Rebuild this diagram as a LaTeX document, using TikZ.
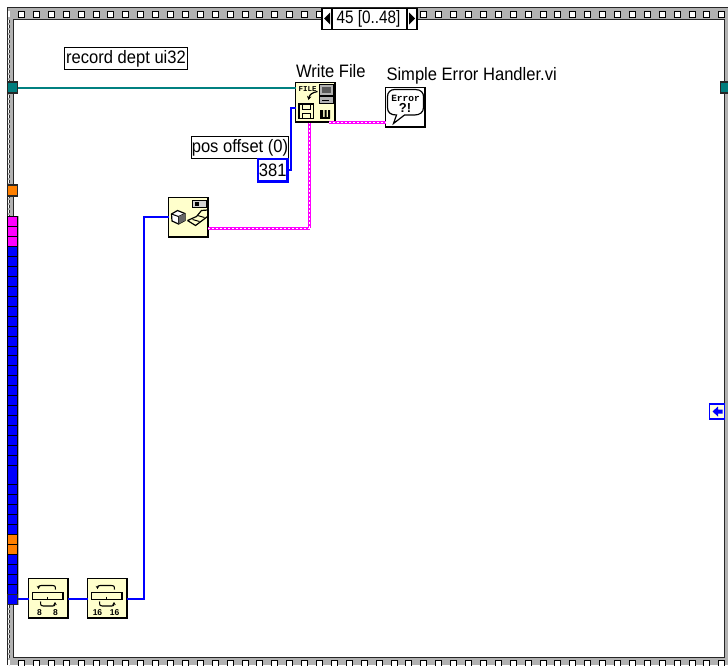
\documentclass[tikz,border=0pt]{standalone}
\usepackage{fontspec}
\usetikzlibrary{arrows.meta}
\setmainfont{Liberation Sans}
\setmonofont{Liberation Mono}
\definecolor{teal1}{RGB}{0,128,128}
\definecolor{tealt}{RGB}{0,125,125}
\definecolor{band}{RGB}{178,178,178}
\definecolor{iconbg}{RGB}{255,255,204}
\definecolor{navbg}{RGB}{255,255,225}
\definecolor{orng}{RGB}{255,128,0}
\definecolor{pinkw}{RGB}{255,0,255}
\definecolor{bluew}{RGB}{0,0,255}
\tikzset{
 x=1pt,y=-1pt,
 tun/.style={draw=black!85,line width=1.1pt,minimum width=10pt,minimum height=#1,inner sep=0pt,outer sep=0pt},
 tun/.default=10pt,
 cell/.style={draw=black,line width=1.1pt},
 icon/.style={draw=black,line width=1.5pt,fill=iconbg,minimum size=39.5pt,inner sep=0pt,outer sep=0pt},
 lab/.style={draw=black,line width=.9pt,fill=white,inner sep=0pt,outer sep=0pt,font=\fontsize{18}{19}\selectfont},
 freelab/.style={inner sep=0pt,outer sep=0pt,font=\fontsize{18}{19}\selectfont},
 bw/.style={draw=bluew,line width=2pt},
 tw/.style={draw=teal1,line width=2pt},
 sq/.style={draw=black,line width=1pt,fill=white},
}
\newcommand{\narrow}[1]{\scalebox{.92}[1]{#1}}
\newcommand{\pinkline}[1]{\draw[pinkw,line width=3pt] #1; \draw[white,line width=1pt,dash pattern=on 2pt off 2pt] #1;}
\newcommand{\conv}[5]{%
 \begin{scope}[shift={(#1)}]
  \draw[line width=1.2pt] (-16,-6) rectangle (14.5,1);
  \draw[line width=.9pt] (-1,-2) -- (-1,1);
  \draw[line width=1.1pt,-{Stealth[length=3pt,width=3.5pt]}] (7,-9) .. controls (7,-13) and (6,-13) .. (4,-13) -- (-7,-13) .. controls (-9,-13) and (-10,-12.5) .. (-10,-9.5);
  \draw[line width=1.1pt,-{Stealth[length=3pt,width=3.5pt]}] (-8,3) .. controls (-8,7.5) and (-7,7.5) .. (-5,7.5) -- (4,7.5) .. controls (6,7.5) and (6.5,7) .. (6.5,3.5);
  \node[inner sep=0pt,font=\fontsize{8.5}{9}\selectfont\bfseries] at (#4,14) {#2};
  \node[inner sep=0pt,font=\fontsize{8.5}{9}\selectfont\bfseries] at (#5,14) {#3};
 \end{scope}}
\begin{document}
\begin{tikzpicture}
\useasboundingbox (0,0) rectangle (728,665);
\fill[white] (0,0) rectangle (728,665);
% frame
\fill[band] (8,8) rectangle (728,665);
\fill[white] (14,19) rectangle (724,657);
\draw[black!85,line width=1.2pt] (7.5,665) -- (7.5,7.5) -- (728,7.5);
\draw[black!85,line width=1.2pt] (13.5,657.5) -- (13.5,19.5) -- (724.5,19.5) -- (724.5,657.5) -- cycle;
\draw[white,line width=2pt,dash pattern=on 2.5pt off 2.5pt] (8.5,20) -- (8.5,665);
\draw[black!80,line width=1pt,dash pattern=on 2.5pt off 2.5pt] (9.5,20) -- (9.5,665);
\foreach \i in {0,...,47}{
  \pgfmathsetmacro{\sx}{18.5+14.9*\i}
  \ifdim\sx pt<318pt \draw[sq] (\sx,11) rectangle ++(6,6); \fi
  \ifdim\sx pt>417pt \draw[sq] (\sx,11) rectangle ++(6,6); \fi
  \draw[sq] (\sx,660.5) rectangle ++(6,7);
}
\fill[white] (7.5,11) rectangle (10,17);
\fill[white] (7.5,660) rectangle (10,665);
% selector
\node[draw=black,line width=1.3pt,fill=white,minimum width=95pt,minimum height=21pt,inner sep=0pt,outer sep=0pt,anchor=north west] (sel) at (322,8.5) {};
\node[freelab] (seltxt) at (368.5,18.5) {\scalebox{.85}[1]{45 [0..48]}};
\draw[black,line width=1.1pt] (332,8.5) -- (332,29.5) (407,8.5) -- (407,29.5);
\fill[black] (330,12.5) -- (330,24.5) -- (324,18.5) -- cycle;
\fill[black] (409,12.5) -- (409,24.5) -- (415,18.5) -- cycle;
% tunnels
\node[tun=11pt,fill=tealt,anchor=north west] (tL) at (7.5,82) {};
\node[tun=11pt,fill=tealt,anchor=north east] (tR) at (730.5,82) {};
\node[tun=11pt,fill=orng,anchor=north west] (oA) at (7.5,185) {};
\draw[black!30,line width=1pt] (18.5,216) -- (18.5,605);
\foreach \a/\b in {216.5/226.5,226.5/236.5,236.5/246.5}{\draw[cell,fill=pinkw] (7.5,\a) rectangle (17.5,\b);}
\foreach \a/\b in {246.5/256.5,256.5/266.5,266.5/276.5,276.5/286.5,286.5/296.5,296.5/306.5,306.5/316.5,316.5/326.5,326.5/336.5,336.5/346.5,346.5/355.5,355.5/365.5,365.5/375.5,375.5/385.5,385.5/395.5,395.5/405.5,405.5/415.5,415.5/425.5,425.5/435.5,435.5/445.5,445.5/455.5,455.5/465.5,465.5/484.5,484.5/494.5,494.5/504.5,504.5/514.5,514.5/524.5,524.5/534.5,554.5/564.5,564.5/574.5,574.5/584.5,584.5/594.5}{\draw[cell,fill=bluew] (7.5,\a) rectangle (17.5,\b);}
\foreach \a/\b in {534.5/544.5,544.5/554.5}{\draw[cell,fill=orng] (7.5,\a) rectangle (17.5,\b);}
\node[tun=10pt,fill=bluew,anchor=north west] (bT) at (7.5,594.5) {};
% icons
\node[icon,anchor=north west] (wf) at (295.5,82.5) {};
\node[icon,fill=white,anchor=north west] (err) at (385.5,87.5) {};
\node[icon,anchor=north west] (prim) at (168.5,197.5) {};
\node[icon,anchor=north west] (c1) at (28.5,578.5) {};
\node[icon,anchor=north west] (c2) at (87.5,578.5) {};
% labels
\node[lab,minimum width=123pt,minimum height=22pt,anchor=north west] (rec) at (64.5,47.5) {\narrow{record dept ui32}};
\node[lab,minimum width=97pt,minimum height=22pt,anchor=north west] (pos) at (191.5,136.5) {\narrow{pos offset (0)}};
\node[draw=bluew,line width=2.2pt,fill=white,minimum width=29.5pt,minimum height=22.5pt,inner sep=0pt,outer sep=0pt,font=\fontsize{18}{19}\selectfont,anchor=north west] (num) at (258,159) {\narrow{381}};
\node[freelab,anchor=west] (wfl) at (296,71) {\narrow{Write File}};
\node[freelab,anchor=west] (errl) at (386.5,76) {\narrow{Simple Error Handler.vi}};
% wires
\draw[tw] (tL.east |- 0,88) -- (wf.west |- 0,88);
\draw[bw] (num.east) -- ++(3.5,0) |- (wf.west |- 0,108);
\coordinate (pinA) at (329,122.5);
\pinkline{(pinA) -- (pinA -| err.west)}
\coordinate (pinB) at (309.5,122.5);
\coordinate (pinC) at (prim.east |- 0,228);
\coordinate (pinD) at (309.5,228);
\pinkline{(pinC) -- (pinD)}
\draw[pinkw,line width=2.4pt] (pinD) -- (pinB);
\draw[white,line width=.8pt,dash pattern=on 2pt off 2pt] (pinD) -- (pinB);
\draw[bw] (bT.east |- 0,599) -- (c1.west |- 0,599);
\draw[bw] (c1.east |- 0,599) -- (c2.west |- 0,599);
\draw[bw] (c2.east |- 0,599) -- (144,599) |- (prim.west |- 0,217);
% write file icon
\begin{scope}[shift={(295.5,82.5)}]
 \node[inner sep=0pt,anchor=west,font=\fontsize{7.5}{9}\selectfont\ttfamily\bfseries] at (3,6.5) {FILE};
 \draw[line width=1pt,fill=band] (23.5,1.5) rectangle (38,12.5);
 \fill[black!65] (26.5,4) rectangle (35,10);
 \draw[line width=1pt,fill=band] (23.5,14) rectangle (38,21);
 \draw[line width=1pt] (26.5,18) -- (33,18);
 \draw[line width=1.2pt,-{Stealth[length=4pt,width=4.5pt]}] (22,9) .. controls (17,10) and (14,12) .. (13,17.5);
 \draw[line width=1.2pt,fill=iconbg] (3.5,21.5) rectangle (18,36);
 \draw[line width=1pt] (7,21.5) rectangle (14.5,27);
 \draw[line width=1pt] (6.5,30.5) rectangle (15,36);
 \fill[black] (24.5,27.5) rectangle (27.5,36) (29,27.5) rectangle (31,36) (32.5,27.5) rectangle (34.5,36);
 \fill[black] (24.5,34.5) rectangle (34.5,36.5);
\end{scope}
% error icon
\begin{scope}[shift={(385.5,87.5)}]
 \draw[line width=1.2pt] (9,2) -- (30,2) .. controls (36,2) and (38,6) .. (38,9) -- (38,20) .. controls (38,25) and (34,27.5) .. (29,27.5) -- (19,27.5) -- (8,36) -- (11,27.5) .. controls (5,27.5) and (2,25) .. (2,20) -- (2,9) .. controls (2,5) and (5,2) .. (9,2) -- cycle;
 \node[inner sep=0pt,font=\fontsize{9.5}{11}\selectfont\ttfamily\bfseries] at (20,10.5) {Error};
 \node[inner sep=0pt,font=\fontsize{13}{13}\selectfont\bfseries] at (19.5,20.5) {?!};
\end{scope}
% primitive icon
\begin{scope}[shift={(168.5,197.5)}]
 \draw[line width=1pt,fill=band!60] (24,3) rectangle (38,9.5);
 \fill[black] (26,4.5) rectangle (30.5,8);
 \draw[line width=1.2pt,fill=white] (3,16.5) -- (9,13) -- (16.5,16) -- (16.5,23) -- (10,26.5) -- (3.5,23.5) -- cycle;
 \draw[line width=1pt] (3,16.5) -- (10,19) -- (16.5,16) (10,19) -- (10,26.5);
 \fill[black!60] (10,19) -- (16.5,16) -- (16.5,23) -- (10,26.5) -- cycle;
 \draw[line width=1.2pt] (19,23) -- (28,19) -- (33,13) -- (39,12.5) (19,23) -- (27,28) -- (39,19);
 \draw[line width=1pt] (24,22) -- (31,24) (29,18) -- (36,20);
\end{scope}
\conv{48.5,598.5}{8}{8}{-9}{7}
\conv{107.5,598.5}{16}{16}{-10}{7}
% next arrow
\node[draw=bluew,line width=1.5pt,fill=navbg,minimum size=15pt,inner sep=0pt,outer sep=0pt,anchor=north west] (nav) at (709.5,404) {};
\fill[bluew] (712.5,411.5) -- (718,406.5) -- (718,409.5) -- (722.5,409.5) -- (722.5,413.5) -- (718,413.5) -- (718,416.5) -- cycle;
\end{tikzpicture}
\end{document}
